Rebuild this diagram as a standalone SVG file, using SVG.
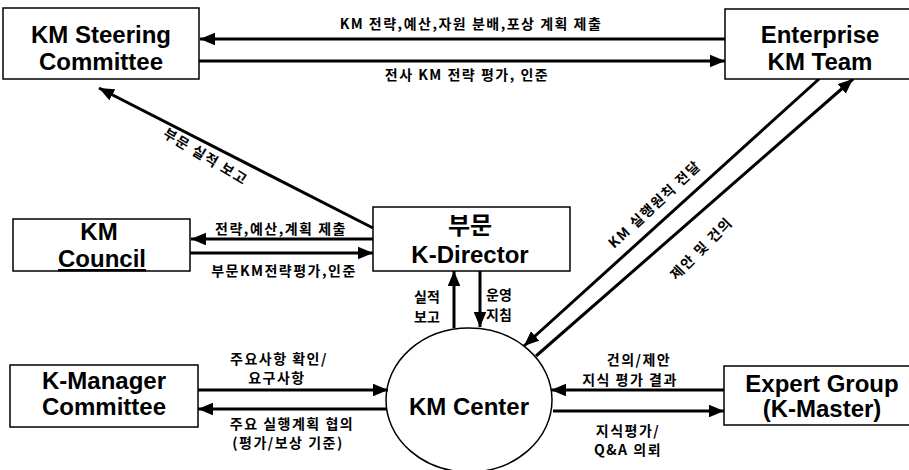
<svg xmlns="http://www.w3.org/2000/svg" width="909" height="470" viewBox="0 0 909 470">
<defs>
<marker id="ah" viewBox="0 0 10 10" refX="10" refY="5" markerWidth="5" markerHeight="4.2" orient="auto" markerUnits="strokeWidth" preserveAspectRatio="none">
<path d="M0,0 L10,5 L0,10 z" fill="#000"/>
</marker>
<style>
.box{fill:#fff;stroke:#000;stroke-width:1.5}
.t{font-family:"Liberation Sans","Noto Sans CJK KR",Arial,sans-serif;font-weight:bold;font-size:24px;text-anchor:middle;fill:#000}
.l{font-family:"Noto Sans CJK KR","Liberation Sans",sans-serif;font-weight:bold;font-size:14px;text-anchor:middle;fill:#000;letter-spacing:1.5px}
.c{stroke:#000;stroke-width:3;fill:none;marker-end:url(#ah)}
</style>
</defs>
<rect width="909" height="470" fill="#fff"/>
<g id="connectors">
<line class="c" x1="726" y1="39" x2="200" y2="39"/>
<line class="c" x1="199" y1="61" x2="725" y2="61"/>
<line class="c" x1="373" y1="228" x2="99" y2="88"/>
<line class="c" x1="373" y1="239" x2="191" y2="239"/>
<line class="c" x1="190" y1="253" x2="373" y2="253"/>
<line class="c" x1="454" y1="328" x2="454" y2="271"/>
<line class="c" x1="480" y1="271" x2="480" y2="327"/>
<line class="c" x1="819" y1="79" x2="524" y2="346"/>
<line class="c" x1="536" y1="356" x2="853" y2="79"/>
<line class="c" x1="198" y1="390" x2="388" y2="390"/>
<line class="c" x1="387" y1="409" x2="198" y2="409"/>
<line class="c" x1="724" y1="390" x2="551" y2="390"/>
<line class="c" x1="553" y1="411" x2="724" y2="411"/>
<text class="l" x="471" y="29">KM 전략,예산,자원 분배,포상 계획 제출</text>
<text class="l" x="467" y="80">전사 KM 전략 평가, 인준</text>
<text class="l" transform="translate(203,161) rotate(31)">부문 실적 보고</text>
<text class="l" x="281" y="234">전략,예산,계획 제출</text>
<text class="l" x="284" y="276">부문KM전략평가,인준</text>
<text class="l" x="427" y="302" style="letter-spacing:0">실적</text>
<text class="l" x="427" y="322" style="letter-spacing:0">보고</text>
<text class="l" x="499" y="300" style="letter-spacing:0">운영</text>
<text class="l" x="499" y="320" style="letter-spacing:0">지침</text>
<text class="l" transform="translate(658,208) rotate(-43)">KM 실행원칙 전달</text>
<text class="l" transform="translate(705,252) rotate(-45)">제안 및 건의</text>
<text class="l" x="279" y="364">주요사항 확인/</text>
<text class="l" x="277" y="383">요구사항</text>
<text class="l" x="292" y="429">주요 실행계획 협의</text>
<text class="l" x="288" y="448">(평가/보상 기준)</text>
<text class="l" x="639" y="365">건의/제안</text>
<text class="l" x="630" y="385">지식 평가 결과</text>
<text class="l" x="628" y="436">지식평가/</text>
<text class="l" x="628" y="455">Q&amp;A 의뢰</text>
</g>
<g id="steering">
<rect class="box" x="3" y="8" width="196" height="71"/>
<text class="t" x="101" y="43">KM Steering</text>
<text class="t" x="101" y="70">Committee</text>
</g>
<g id="enterprise">
<rect class="box" x="725" y="9" width="190" height="70"/>
<text class="t" x="820" y="43">Enterprise</text>
<text class="t" x="820" y="70">KM Team</text>
</g>
<g id="council">
<rect class="box" x="13" y="219" width="177" height="52"/>
<text class="t" x="99" y="240">KM</text>
<text class="t" x="102" y="267" text-decoration="underline">Council</text>
</g>
<g id="director">
<rect class="box" x="373" y="207" width="197" height="64"/>
<text class="t" x="470" y="234">부문</text>
<text class="t" x="470" y="263">K-Director</text>
</g>
<g id="kmanager">
<rect class="box" x="10" y="365" width="188" height="62"/>
<text class="t" x="104" y="389">K-Manager</text>
<text class="t" x="104" y="415">Committee</text>
</g>
<g id="expert">
<rect class="box" x="724" y="366" width="190" height="59"/>
<text class="t" x="822" y="392">Expert Group</text>
<text class="t" x="822" y="417">(K-Master)</text>
</g>
<g id="center">
<ellipse cx="469" cy="400" rx="83" ry="72" fill="none" stroke="#000" stroke-width="1.5"/>
<text class="t" x="469" y="415">KM Center</text>
</g>
</svg>
